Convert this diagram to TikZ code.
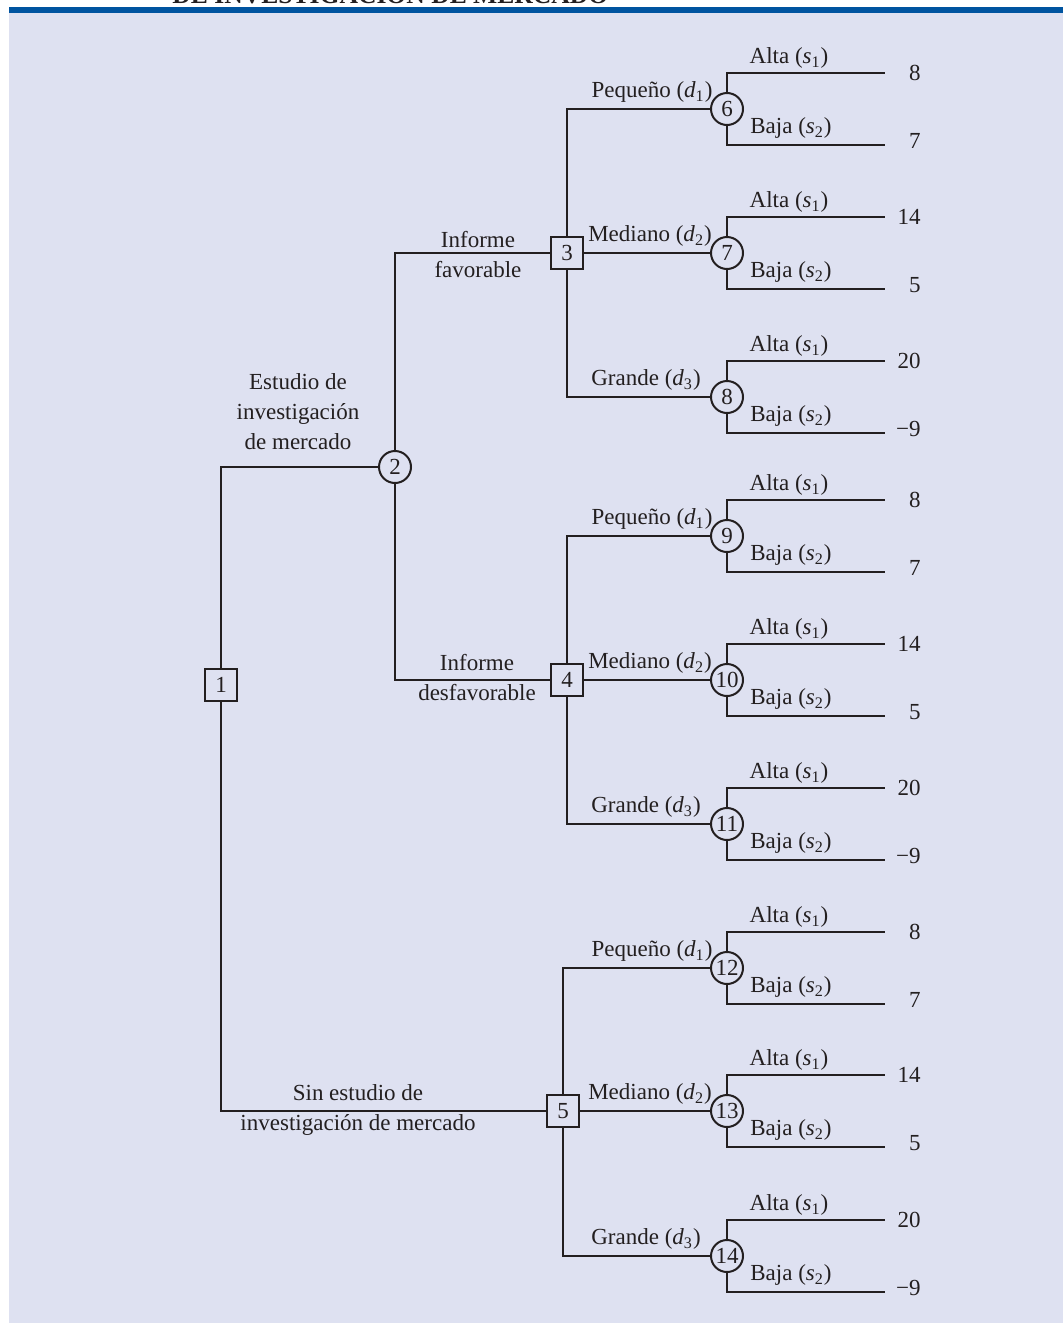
\documentclass[tikz,border=0pt]{standalone}
\usepackage{fontspec}
\setmainfont{Liberation Serif}
\usepackage{xcolor}
\usepackage{tikz}
\definecolor{bgcol}{RGB}{222,225,241}
\definecolor{bandcol}{RGB}{0,84,160}
\definecolor{inkcol}{RGB}{35,31,32}
\newcommand{\subv}[2]{\textit{#1}\textsubscript{#2}}
\tikzset{every node/.append style={font=\fontsize{11.5}{15}\selectfont, text=inkcol},
  decision/.style={draw=inkcol, line width=1pt, fill=bgcol, minimum size=16pt, inner sep=0pt},
  chance/.style={draw=inkcol, line width=1pt, fill=bgcol, circle, minimum size=16pt, inner sep=0pt},
  branch/.style={draw=inkcol, line width=1pt}}

\begin{document}
\begin{tikzpicture}[x=0.5pt, y=-0.5pt]
    \useasboundingbox (0,0) rectangle (1063,1323);
    \fill[bgcol] (9,13) rectangle (1063,1323);
    \fill[bandcol] (9,7) rectangle (1063,13);
    \node[anchor=base west, inner sep=0pt, font=\fontsize{12.8}{14}\selectfont\bfseries] (title) at (172,3) {DE INVESTIGACIÓN DE MERCADO};
    % decision and chance nodes
    \node[decision] (d1) at (221,685) {1};
    \node[chance] (c2) at (395,467) {2};
    \node[decision] (d3) at (567,253) {3};
    \node[decision] (d4) at (567,680) {4};
    \node[decision] (d5) at (563,1111) {5};
    \draw[branch] (d1) |- (c2);
    \draw[branch] (d1) |- (d5);
    \draw[branch] (c2) |- (d3);
    \draw[branch] (c2) |- (d4);
    \foreach \n/\y/\hi/\lo in {6/109/8/7, 7/253/14/5, 8/397/20/−9, 9/536/8/7, 10/680/14/5,
      11/824/20/−9, 12/968/8/7, 13/1111/14/5, 14/1256/20/−9} {
        \node[chance] (c\n) at (727,\y) {\n};
        \coordinate (c\n a) at (885,\y-36);
        \coordinate (c\n b) at (885,\y+36);
        \draw[branch] (c\n) |- (c\n a);
        \draw[branch] (c\n) |- (c\n b);
        \node[anchor=east, inner sep=0pt] (v\n a) at (921,\y-36) {\hi};
        \node[anchor=east, inner sep=0pt] (v\n b) at (921,\y+32) {\lo};
        \node (s\n a) at (789,\y-51) {Alta (\subv{s}{1})};
        \node (s\n b) at (791,\y+19) {Baja (\subv{s}{2})};
    }
    \foreach \d/\a/\b/\c in {d3/6/7/8, d4/9/10/11, d5/12/13/14} {
        \draw[branch] (\d) |- (c\a);
        \draw[branch] (\d) -- (c\b);
        \draw[branch] (\d) |- (c\c);
        \node (p\a) at ([shift={(-75,-17)}]c\a) {Pequeño (\subv{d}{1})};
        \node (m\b) at ([shift={(-77,-17)}]c\b) {Mediano (\subv{d}{2})};
        \node (g\c) at ([shift={(-81,-17)}]c\c) {Grande (\subv{d}{3})};
    }
    % branch labels
    \node[align=center] (est) at (298,412) {Estudio de\\investigación\\de mercado};
    \node[align=center] (fav) at (478,255) {Informe\\favorable};
    \node[align=center] (desf) at (477,678) {Informe\\desfavorable};
    \node[align=center] (sin) at (358,1110) {Sin estudio de\\investigación de mercado};
\end{tikzpicture}
\end{document}
